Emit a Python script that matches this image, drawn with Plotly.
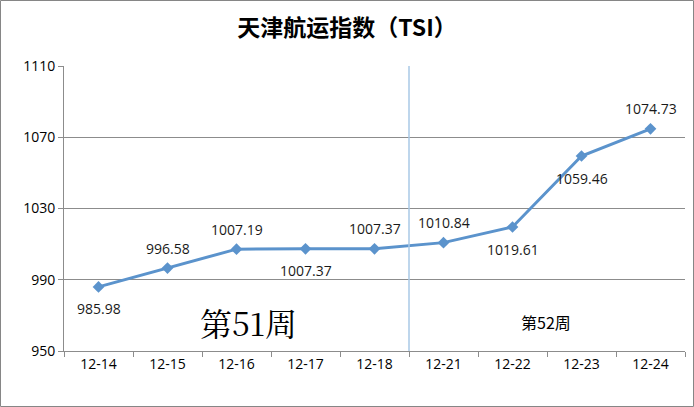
import plotly.graph_objects as go

categories = ["12-14", "12-15", "12-16", "12-17", "12-18", "12-21", "12-22", "12-23", "12-24"]
values = [985.98, 996.58, 1007.19, 1007.37, 1007.37, 1010.84, 1019.61, 1059.46, 1074.73]
label_side = [-1, 1, 1, -1, 1, 1, -1, -1, 1]   # -1 below, +1 above
y_ticks = [950, 990, 1030, 1070, 1110]

LINE = "#5B93CC"
GRID = "#8C8C8C"

fig = go.Figure()
fig.add_trace(go.Scatter(
    x=categories, y=values, mode="lines+markers",
    line=dict(color=LINE, width=3),
    marker=dict(symbol="diamond", size=9, color=LINE),
    showlegend=False,
))

for c, v, s in zip(categories, values, label_side):
    fig.add_annotation(x=c, y=v, xref="x", yref="y", text=f"{v:.2f}", showarrow=False,
                       yshift=20 * s if s > 0 else -22,
                       font=dict(family="Open Sans, Noto Sans", size=14, color="#1a1a1a"))

# week separator line between 12-18 and 12-21
fig.add_shape(type="line", xref="x", yref="paper", x0=4.5, x1=4.5, y0=0, y1=1.0,
              line=dict(color="#A9C8E6", width=1.5))

fig.add_annotation(x=2.18, y=966.5, xref="x", yref="y", text="第51周", showarrow=False,
                   font=dict(family="Noto Serif CJK SC, Noto Sans CJK SC, serif", size=32, color="#000"))
fig.add_annotation(x=6.49, y=966.5, xref="x", yref="y", text="第52周", showarrow=False,
                   font=dict(family="Noto Sans CJK SC", size=16, color="#000"))

fig.update_layout(
    width=694, height=407,
    margin=dict(l=64, r=9, t=66, b=56),
    paper_bgcolor="white", plot_bgcolor="white",
    title=dict(text="<b>天津航运指数（TSI）</b>", x=0.5, xanchor="center", y=1 - 28 / 407, yanchor="middle",
               font=dict(family="Noto Sans CJK SC", size=23, color="#000")),
    xaxis=dict(type="category", tickson="boundaries", ticks="outside", ticklen=5,
               tickcolor=GRID, showline=True, linecolor=GRID, showgrid=False,
               tickfont=dict(family="Open Sans, Noto Sans", size=14, color="#000"),
               range=[-0.5, 8.5]),
    yaxis=dict(range=[950, 1110], tickvals=y_ticks, ticks="outside", ticklen=5,
               tickcolor=GRID, showline=True, linecolor=GRID,
               gridcolor=GRID, gridwidth=1, zeroline=False,
               tickfont=dict(family="Open Sans, Noto Sans", size=14, color="#000")),
)
fig.add_shape(type="rect", xref="paper", yref="paper",
              x0=-63.5 / 621, x1=1 + 8.5 / 621, y0=-55.5 / 285, y1=1 + 65.5 / 285,
              line=dict(color="#868686", width=1))

fig.write_html("out.html", config={"displayModeBar": False},
               post_script="document.body.style.margin='0';document.body.style.overflow='hidden';")
